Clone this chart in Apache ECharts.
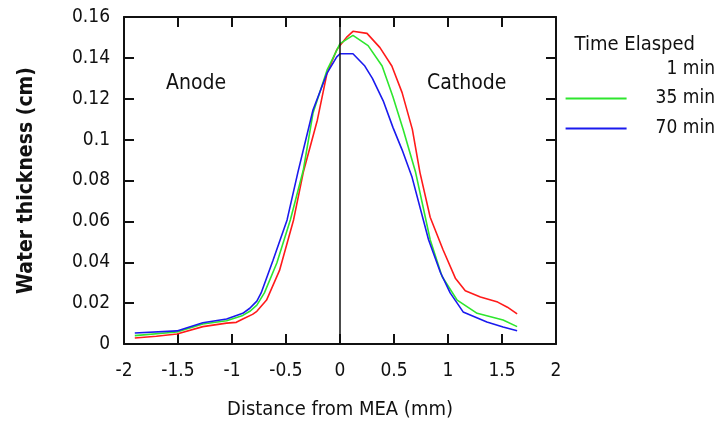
<!DOCTYPE html>
<html><head><meta charset="utf-8">
<script src="https://cdn.jsdelivr.net/npm/echarts@6/dist/echarts.min.js"></script>
<style>html,body{margin:0;padding:0;background:#fff}#c{width:719px;height:426px}</style>
</head><body><div id="c"></div>
<script>
var seriesNames = ['1 min', '35 min', '70 min'];
var xTicks = [-2, -1.5, -1, -0.5, 0, 0.5, 1, 1.5, 2];
var yTicks = [0, 0.02, 0.04, 0.06, 0.08, 0.1, 0.12, 0.14, 0.16];

var x1 = [-1.90, -1.70, -1.51, -1.27, -1.05, -0.96, -0.90, -0.81, -0.77, -0.68, -0.56, -0.43, -0.34, -0.21, -0.12, -0.03, 0.0, 0.06, 0.12, 0.25, 0.37, 0.48, 0.575, 0.67, 0.74, 0.835, 0.955, 1.07, 1.16, 1.30, 1.46, 1.55, 1.64];
var y1 = [0.0029, 0.0038, 0.0049, 0.0085, 0.0102, 0.0106, 0.0122, 0.0145, 0.0160, 0.0215, 0.036, 0.0607, 0.084, 0.1095, 0.1325, 0.144, 0.146, 0.150, 0.153, 0.152, 0.145, 0.136, 0.123, 0.105, 0.084, 0.062, 0.046, 0.032, 0.026, 0.023, 0.0205, 0.018, 0.0147];

var x35 = [-1.90, -1.51, -1.27, -1.05, -0.90, -0.835, -0.77, -0.70, -0.585, -0.46, -0.34, -0.25, -0.12, 0.0, 0.12, 0.26, 0.39, 0.49, 0.585, 0.70, 0.835, 0.945, 1.085, 1.27, 1.51, 1.64];
var y35 = [0.0041, 0.0059, 0.0098, 0.0114, 0.0140, 0.0160, 0.019, 0.025, 0.0396, 0.0607, 0.085, 0.113, 0.134, 0.147, 0.151, 0.146, 0.136, 0.121, 0.105, 0.084, 0.051, 0.033, 0.0215, 0.015, 0.0117, 0.0085];

var x70 = [-1.90, -1.51, -1.27, -1.05, -0.90, -0.835, -0.77, -0.73, -0.62, -0.49, -0.39, -0.25, -0.12, -0.03, 0.0, 0.12, 0.23, 0.30, 0.40, 0.49, 0.575, 0.665, 0.82, 0.93, 1.02, 1.14, 1.36, 1.51, 1.64];
var y70 = [0.0054, 0.0064, 0.0104, 0.0122, 0.0150, 0.0175, 0.0210, 0.0250, 0.041, 0.0607, 0.084, 0.1145, 0.1325, 0.1405, 0.142, 0.142, 0.136, 0.130, 0.119, 0.106, 0.095, 0.082, 0.051, 0.035, 0.025, 0.0157, 0.0108, 0.0083, 0.0065];

var colors = ['#ff1a1a', '#2ee62e', '#1a1aee'];
function pairs(xs, ys) { return xs.map(function (x, i) { return [x, ys[i]]; }); }
var allData = [pairs(x1, y1), pairs(x35, y35), pairs(x70, y70)];

var FONT = '"DejaVu Sans Condensed", sans-serif';
var axBase = {
  type: 'value', splitLine: { show: false },
  axisLine: { show: true, onZero: false, lineStyle: { color: '#111', width: 2 } },
  axisTick: { show: true, inside: true, length: 10, lineStyle: { color: '#111', width: 2 } }
};
var chart = echarts.init(document.getElementById('c'));
var legendBase = function (name, top, transparent) {
  return {
    right: 4, top: top, icon: 'rect', itemWidth: 61, itemHeight: 2, itemGap: 0, padding: 0,
    selectedMode: false,
    data: [transparent ? { name: name, itemStyle: { color: 'rgba(0,0,0,0)' } } : name],
    textStyle: { fontFamily: FONT, fontSize: 19, color: '#111', padding: [0, 0, 0, 24] }
  };
};
chart.setOption({
  animation: false,
  grid: { left: 124, right: 163, top: 17, bottom: 82 },
  xAxis: [
    Object.assign({}, axBase, {
      min: -2, max: 2, interval: 0.5, position: 'bottom',
      name: 'Distance from MEA (mm)', nameLocation: 'middle', nameGap: 56,
      nameTextStyle: { fontFamily: FONT, fontSize: 20, color: '#111' },
      axisLabel: { margin: 18, fontFamily: FONT, fontSize: 19, color: '#111',
        formatter: function (v) { return xTicks.indexOf(v) >= 0 ? String(v) : ''; } }
    }),
    Object.assign({}, axBase, { min: -2, max: 2, interval: 0.5, position: 'top', axisLabel: { show: false } })
  ],
  yAxis: [
    Object.assign({}, axBase, {
      min: 0, max: 0.16, interval: 0.02, position: 'left',
      name: 'Water thickness (cm)', nameLocation: 'middle', nameGap: 87, nameRotate: 90,
      nameTextStyle: { fontFamily: FONT, fontSize: 21, fontWeight: 'bold', color: '#111' },
      axisLabel: { margin: 14, fontFamily: FONT, fontSize: 19, color: '#111',
        formatter: function (v) { var t = yTicks.find(function (k) { return Math.abs(k - v) < 1e-9; }); return t === undefined ? '' : String(t); } }
    }),
    Object.assign({}, axBase, { min: 0, max: 0.16, interval: 0.02, position: 'right', axisLabel: { show: false } })
  ],
  legend: [legendBase('1 min', 60, true), legendBase('35 min', 89, false), legendBase('70 min', 119, false)],
  graphic: [
    { type: 'text', right: 24, top: 35, style: { text: 'Time Elasped', fontFamily: FONT, fontSize: 20, fill: '#111' } },
    { type: 'text', left: 166, top: 73, style: { text: 'Anode', fontFamily: FONT, fontSize: 21, fill: '#111' } },
    { type: 'text', left: 427, top: 73, style: { text: 'Cathode', fontFamily: FONT, fontSize: 21, fill: '#111' } }
  ],
  series: seriesNames.map(function (n, i) {
    var s = {
      name: n, type: 'line', data: allData[i], showSymbol: false, symbol: 'none',
      lineStyle: { color: colors[i], width: 1.6 }, itemStyle: { color: colors[i] }
    };
    if (i === 0) {
      s.markLine = { silent: true, symbol: 'none', label: { show: false },
        lineStyle: { color: '#111', width: 1.5, type: 'solid' }, data: [{ xAxis: 0 }] };
    }
    return s;
  })
});
</script></body></html>
